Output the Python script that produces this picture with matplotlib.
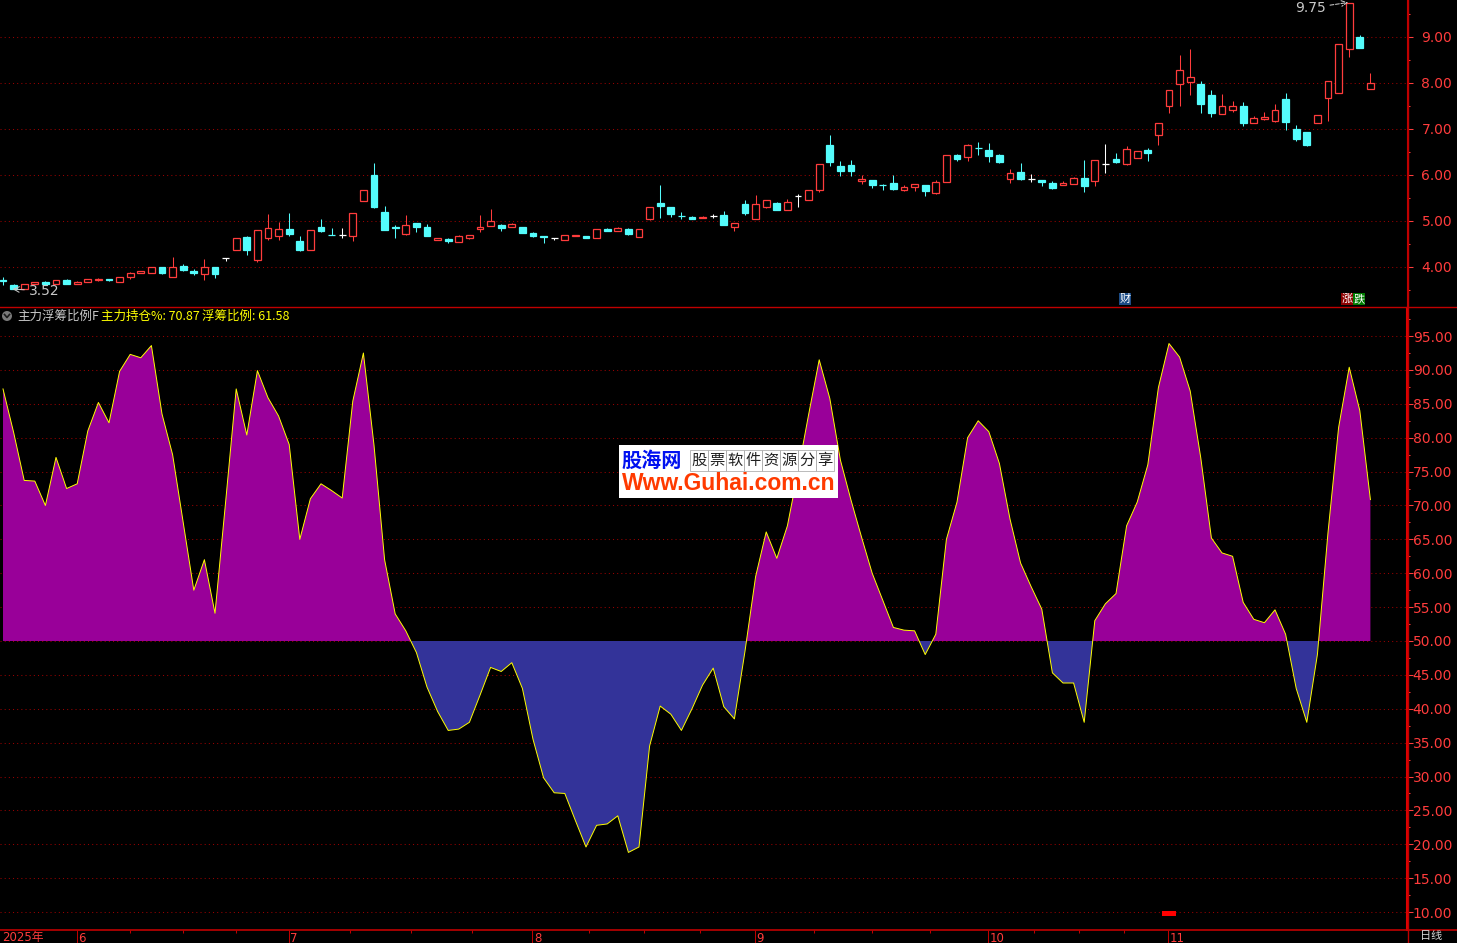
import numpy as np
import matplotlib
matplotlib.use('Agg')
import matplotlib.pyplot as plt
from matplotlib.patches import Rectangle, Ellipse
from matplotlib.lines import Line2D
from matplotlib import font_manager
import matplotlib.transforms as mtrans

# ================= data =================
opens = [3.71, 3.61, 3.53, 3.62, 3.67, 3.62, 3.72, 3.62, 3.67, 3.71,
         3.75, 3.68, 3.79, 3.86, 3.86, 4.00, 3.79, 4.02, 3.91, 3.84,
         4.00, 4.19, 4.38, 4.65, 4.16, 4.64, 4.68, 4.83, 4.57, 4.36,
         4.87, 4.70, 4.69, 4.68, 5.44, 6.00, 5.20, 4.86, 4.72, 4.96,
         4.87, 4.59, 4.61, 4.55, 4.62, 4.83, 4.90, 4.91, 4.88, 4.87,
         4.74, 4.67, 4.62, 4.58, 4.67, 4.67, 4.62, 4.83, 4.79, 4.83,
         4.66, 5.05, 5.39, 5.30, 5.11, 5.08, 5.07, 5.11, 5.13, 4.88,
         5.37, 5.05, 5.31, 5.39, 5.23, 5.54, 5.46, 5.68, 6.65, 6.20,
         6.22, 5.88, 5.89, 5.79, 5.83, 5.67, 5.75, 5.78, 5.60, 5.84,
         6.43, 6.39, 6.59, 6.54, 6.43, 5.92, 6.07, 5.91, 5.89, 5.83,
         5.78, 5.81, 5.93, 5.86, 6.24, 6.35, 6.24, 6.38, 6.54, 6.88,
         7.49, 7.97, 8.03, 7.98, 7.73, 7.33, 7.42, 7.51, 7.14, 7.21,
         7.18, 7.65, 7.00, 6.93, 7.14, 7.68, 7.79, 8.75, 9.00, 7.88]

closes = [3.70, 3.53, 3.62, 3.67, 3.64, 3.71, 3.64, 3.67, 3.73, 3.74,
          3.71, 3.78, 3.87, 3.91, 4.01, 3.87, 4.01, 3.93, 3.86, 4.00,
          3.84, 4.19, 4.62, 4.36, 4.80, 4.84, 4.82, 4.72, 4.38, 4.80,
          4.78, 4.69, 4.69, 5.17, 5.67, 5.30, 4.80, 4.85, 4.91, 4.86,
          4.67, 4.63, 4.57, 4.67, 4.69, 4.88, 5.00, 4.85, 4.93, 4.75,
          4.68, 4.65, 4.62, 4.69, 4.69, 4.63, 4.82, 4.79, 4.84, 4.72,
          4.82, 5.30, 5.33, 5.15, 5.10, 5.04, 5.08, 5.11, 4.92, 4.95,
          5.17, 5.37, 5.45, 5.24, 5.41, 5.54, 5.67, 6.23, 6.28, 6.09,
          6.09, 5.91, 5.79, 5.78, 5.70, 5.75, 5.80, 5.66, 5.84, 6.43,
          6.35, 6.65, 6.58, 6.41, 6.28, 6.04, 5.91, 5.91, 5.85, 5.72,
          5.83, 5.93, 5.76, 6.32, 6.24, 6.28, 6.56, 6.52, 6.48, 7.12,
          7.84, 8.28, 8.12, 7.55, 7.35, 7.49, 7.51, 7.14, 7.23, 7.26,
          7.41, 7.16, 6.79, 6.66, 7.30, 8.04, 8.84, 9.73, 8.77, 8.01]

highs = [3.78, 3.63, 3.63, 3.67, 3.69, 3.71, 3.74, 3.70, 3.73, 3.77,
         3.75, 3.78, 3.89, 3.92, 4.01, 4.00, 4.22, 4.07, 3.95, 4.17,
         4.01, 4.19, 4.62, 4.67, 4.80, 5.15, 4.98, 5.17, 4.68, 4.80,
         5.05, 4.85, 4.85, 5.17, 5.67, 6.26, 5.33, 4.91, 5.12, 4.96,
         4.94, 4.64, 4.62, 4.70, 4.69, 5.13, 5.26, 4.93, 4.95, 4.87,
         4.76, 4.67, 4.64, 4.69, 4.69, 4.68, 4.82, 4.84, 4.86, 4.84,
         4.82, 5.30, 5.78, 5.30, 5.19, 5.10, 5.10, 5.16, 5.22, 4.95,
         5.46, 5.57, 5.45, 5.41, 5.47, 5.59, 5.67, 6.23, 6.87, 6.30,
         6.33, 6.00, 5.89, 5.81, 6.01, 5.79, 5.81, 5.78, 5.89, 6.43,
         6.45, 6.67, 6.72, 6.69, 6.45, 6.13, 6.26, 6.02, 5.90, 5.87,
         5.86, 5.96, 6.33, 6.32, 6.67, 6.48, 6.63, 6.52, 6.59, 7.12,
         7.84, 8.61, 8.75, 8.04, 7.84, 7.76, 7.60, 7.58, 7.29, 7.36,
         7.54, 7.78, 7.08, 6.93, 7.30, 8.04, 8.84, 9.75, 9.04, 8.22]

lows = [3.61, 3.52, 3.52, 3.62, 3.61, 3.62, 3.64, 3.62, 3.67, 3.70,
        3.69, 3.68, 3.73, 3.86, 3.86, 3.84, 3.79, 3.92, 3.83, 3.72,
        3.76, 4.12, 4.38, 4.27, 4.10, 4.59, 4.59, 4.68, 4.34, 4.36,
        4.77, 4.69, 4.62, 4.57, 5.44, 5.28, 4.80, 4.64, 4.70, 4.77,
        4.67, 4.59, 4.52, 4.55, 4.61, 4.77, 4.90, 4.79, 4.86, 4.75,
        4.66, 4.53, 4.59, 4.58, 4.67, 4.62, 4.62, 4.78, 4.78, 4.70,
        4.66, 5.03, 5.07, 5.08, 5.05, 5.04, 5.06, 5.06, 4.92, 4.79,
        5.13, 5.05, 5.29, 5.23, 5.23, 5.30, 5.46, 5.62, 6.19, 5.98,
        5.97, 5.80, 5.72, 5.67, 5.68, 5.65, 5.65, 5.54, 5.58, 5.84,
        6.30, 6.30, 6.44, 6.29, 6.26, 5.82, 5.90, 5.85, 5.77, 5.70,
        5.78, 5.80, 5.63, 5.77, 6.05, 6.26, 6.22, 6.37, 6.30, 6.66,
        7.34, 7.51, 7.74, 7.35, 7.27, 7.32, 7.36, 7.06, 7.12, 7.19,
        7.16, 6.97, 6.74, 6.64, 7.14, 7.18, 7.79, 8.57, 8.77, 7.88]

# 主力持仓% line
zl_pct = [87.2, 80.8, 73.7, 73.6, 70.0, 77.1, 72.5, 73.2, 81.0, 85.2,
          82.2, 89.8, 92.3, 91.8, 93.6, 83.5, 77.5, 67.5, 57.5, 62.0,
          54.1, 70.5, 87.2, 80.4, 89.9, 85.9, 83.2, 79.0, 65.0, 71.0,
          73.2, 72.2, 71.1, 85.4, 92.5, 78.9, 62.0, 54.0, 51.5, 48.3,
          43.2, 39.6, 36.8, 37.0, 38.0, 42.0, 46.1, 45.5, 46.8, 43.0,
          35.5, 29.8, 27.6, 27.5, 23.5, 19.6, 22.8, 23.0, 24.2, 18.8,
          19.6, 34.5, 40.4, 39.2, 36.8, 40.0, 43.5, 46.0, 40.3, 38.5,
          48.5, 59.5, 66.1, 62.2, 67.0, 75.0, 83.4, 91.5, 85.8, 76.7,
          70.8, 65.3, 60.0, 56.0, 52.0, 51.6, 51.5, 48.0, 51.0, 65.0,
          70.5, 80.0, 82.5, 80.9, 76.2, 68.0, 61.5, 58.0, 54.7, 45.3,
          43.8, 43.8, 38.0, 53.0, 55.5, 57.0, 67.0, 70.5, 76.0, 87.4,
          93.9, 91.9, 86.9, 77.0, 65.2, 63.0, 62.5, 55.7, 53.2, 52.7,
          54.6, 51.0, 43.0, 38.0, 48.0, 66.0, 81.5, 90.4, 84.0, 70.87]

month_idx = [7, 27, 50, 71, 93, 110]
month_labels = ['6', '7', '8', '9', '10', '11']
price_ticks = [4, 5, 6, 7, 8, 9]
ind_ticks = list(range(10, 100, 5))
marker_idx = 110     # small red stick at the bottom of the indicator

# ================= styling =================
RED = '#FF3C3C'
CYAN = '#54FCFC'
GRID = '#990000'
AXLINE = '#C00000'

installed = {f.name for f in font_manager.fontManager.ttflist}
NUM_FONT = 'Liberation Sans Narrow' if 'Liberation Sans Narrow' in installed else 'DejaVu Sans'
CJK = ['Noto Sans CJK SC', 'DejaVu Sans']

W, H = 1457, 943


def fx(x):
    return x / W


def fy(y):
    return 1 - y / H


fig = plt.figure(figsize=(W / 100, H / 100), dpi=100, facecolor='black')

ax1 = fig.add_axes([0, fy(307), fx(1407), 307 / H])
ax2 = fig.add_axes([0, fy(930), fx(1407), (930 - 308) / H])

n = len(opens)
x = np.arange(n)
step = 10.6
for ax in (ax1, ax2):
    ax.set_facecolor('black')
    ax.set_xlim(-3 / step, (1407 - 3) / step)
    for s in ax.spines.values():
        s.set_visible(False)
    ax.yaxis.tick_right()

ax1.set_ylim(9 - (307 - 37) / 46, 9 + 37 / 46)
ax2.set_ylim(50 - (930 - 641) / 6.776, 50 + (641 - 308) / 6.776)

# ============= right axes =============
ax1.set_yticks(price_ticks)
ax1.set_yticks(np.arange(3.5, 9.6, 1.0), minor=True)
ax2.set_yticks(ind_ticks)
ax2.set_yticks(np.arange(12.5, 98, 5), minor=True)
for ax in (ax1, ax2):
    ax.yaxis.set_major_formatter(matplotlib.ticker.FormatStrFormatter('%.2f'))
    ax.tick_params(axis='y', which='major', colors=RED, length=4.5, width=0.75,
                   direction='out', pad=28, labelsize=10)
    ax.tick_params(axis='y', which='minor', colors=RED, length=2.2, width=0.75, direction='out')
    for lab in ax.get_yticklabels():
        lab.set_ha('right')
        lab.set_fontfamily(NUM_FONT)
    ax.spines['right'].set_visible(True)
    ax.spines['right'].set_color(AXLINE)
    for v in ax.get_yticks():
        ax.axhline(v, color=GRID, lw=0.75, ls=(0, (1, 3)), zorder=0)

ax2.spines['right'].set_color('#E00000')
ax2.spines['right'].set_linewidth(1.5)

# ============= candles =============
bw = 0.66
for i in range(n):
    o, c, h, l = opens[i], closes[i], highs[i], lows[i]
    if c > o:
        col = RED
    elif c < o:
        col = CYAN
    else:
        col = 'white'
    top, bot = max(o, c), min(o, c)
    if col == RED:
        ax1.vlines(i, top, h, color=col, lw=0.75, zorder=2)
        ax1.vlines(i, l, bot, color=col, lw=0.75, zorder=2)
        ax1.add_patch(Rectangle((i - bw / 2, bot), bw, top - bot, facecolor='black',
                                edgecolor=col, lw=0.9, zorder=3))
    else:
        ax1.vlines(i, l, h, color=col, lw=0.75, zorder=2)
        ax1.add_patch(Rectangle((i - bw / 2, bot), bw, top - bot, facecolor=col,
                                edgecolor=col, lw=0.9, zorder=3))

# max / min marks
imax = int(np.argmax(highs))
imin = int(np.argmin(lows))
ax1.annotate('%.2f' % highs[imax], xy=(imax - 0.1, highs[imax]), xytext=(imax - 2.2, 9.63),
             color='#C8C8C8', fontsize=10, family=NUM_FONT, ha='right', va='center',
             arrowprops=dict(arrowstyle='->', color='#C8C8C8', lw=0.75, ls='--',
                             shrinkA=1, shrinkB=0))
ax1.annotate('%.2f' % lows[imin], xy=(imin - 0.1, lows[imin]), xytext=(imin + 1.4, lows[imin] - 0.04),
             color='#C8C8C8', fontsize=10, family=NUM_FONT, ha='left', va='center',
             arrowprops=dict(arrowstyle='->', color='#C8C8C8', lw=0.75,
                             shrinkA=1, shrinkB=0))

# ============= indicator =============
zl = np.array(zl_pct)
ax2.fill_between(x, zl, 50, where=zl >= 50, interpolate=True, color='#990099', lw=0, zorder=2)
ax2.fill_between(x, zl, 50, where=zl <= 50, interpolate=True, color='#333399', lw=0, zorder=2)
ax2.plot(x, zl, color='#FFFF00', lw=0.7, zorder=3)
ax2.bar(marker_idx, 0.75, bottom=9.42, width=1.25, color='#FF0000', zorder=3)

# ============= bottom date strip =============
ax1.set_xticks([])
ax2.set_xticks([m - 0.05 for m in month_idx])
ax2.set_xticklabels([])
minor = []
for a, b in zip(month_idx[:-1], month_idx[1:]):
    minor += list(np.linspace(a, b, 5)[1:-1])
ax2.set_xticks(minor, minor=True)
ax2.tick_params(axis='x', which='major', colors=AXLINE, length=10, width=0.75, direction='out')
ax2.tick_params(axis='x', which='minor', colors=AXLINE, length=2.2, width=0.75, direction='out')
strip = mtrans.blended_transform_factory(ax2.transData, ax2.transAxes)
ax2.text(-0.12, -1.5 / 622, '2025年', transform=strip, color=RED, fontsize=8.5,
         family=[NUM_FONT, 'Noto Sans CJK SC'], ha='left', va='top', clip_on=False)
for m, lab in zip(month_idx, month_labels):
    ax2.text(m + 0.1, -1.5 / 622, lab, transform=strip, color=RED, fontsize=8.5,
             family=NUM_FONT, ha='left', va='top', clip_on=False)
fig.text(fx(1420), fy(930.5), '日线', color='#D8D8D8', fontsize=8, family=CJK, ha='left', va='top')

# frame lines across the whole figure
fig.add_artist(Line2D([0, 1], [fy(307), fy(307)], color=AXLINE, lw=1))
fig.add_artist(Line2D([0, 1], [fy(930), fy(930)], color=AXLINE, lw=1.2))
fig.add_artist(Line2D([fx(1407.5), fx(1407.5)], [0, 1], color=AXLINE, lw=1))

# ============= indicator title =============
fig.add_artist(Ellipse((fx(7), fy(316)), 10 / W, 10 / H, facecolor='#7A7A7A', edgecolor='none'))
fig.add_artist(Line2D([fx(4.5), fx(7), fx(9.5)], [fy(314.5), fy(317.5), fy(314.5)], color='#1A1A1A', lw=1.2))
fig.text(fx(17), fy(316), '主力浮筹比例F', color='#C8C8C8', fontsize=9, family=CJK, ha='left', va='center')
fig.text(fx(101), fy(316), '主力持仓%%: %.2f' % zl_pct[-1], color='#FFFF00', fontsize=9, family=CJK,
         ha='left', va='center')
fig.text(fx(202), fy(316), '浮筹比例: 61.58', color='#FFFF00', fontsize=9, family=CJK, ha='left', va='center')

# 财 / 涨跌 tags
for x0, ch, bg in [(1119, '财', '#1C4C86'), (1341, '涨', '#8C0000'), (1353, '跌', '#007A00')]:
    fig.add_artist(Rectangle((fx(x0), fy(305)), 12 / W, 12 / H, facecolor=bg, edgecolor='none'))
    fig.text(fx(x0 + 6), fy(299), ch, color='white', fontsize=8, family=CJK, ha='center', va='center')

# ============= site watermark =============
fig.add_artist(Rectangle((fx(619), fy(498)), 219 / W, 53 / H, facecolor='white', edgecolor='none', zorder=5))
fig.text(fx(621), fy(460), '股海网', color='#0010F0', fontsize=14.5, fontweight='bold', family=CJK,
         ha='left', va='center', zorder=6)
for k, ch in enumerate('股票软件资源分享'):
    fig.add_artist(Rectangle((fx(690 + 18 * k), fy(471)), 18 / W, 21 / H, facecolor='none',
                             edgecolor='#B0B0B0', lw=0.6, zorder=6))
    fig.text(fx(699 + 18 * k), fy(460.5), ch, color='#202020', fontsize=11, family=CJK,
             ha='center', va='center', zorder=7)
fig.text(fx(728.5), fy(484), 'Www.Guhai.com.cn', color='#FF3A00', fontsize=16.5, fontweight='bold',
         family='Liberation Sans', ha='center', va='center', zorder=6)

fig.savefig('out.png', dpi=100, facecolor='black')
